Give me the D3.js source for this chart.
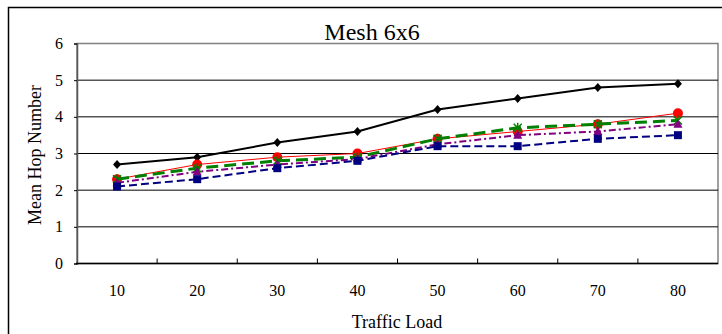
<!DOCTYPE html>
<html>
<head>
<meta charset="utf-8">
<script src="https://cdn.jsdelivr.net/npm/d3@7"></script>
<style>
  body { margin: 0; background: #fff; }
</style>
</head>
<body>
<div class="chart"></div>
<script>
const loads = [10, 20, 30, 40, 50, 60, 70, 80];
const yTicks = [0, 1, 2, 3, 4, 5, 6];

const seriesA = [2.7, 2.9, 3.3, 3.6, 4.2, 4.5, 4.8, 4.9];
const seriesB = [2.3, 2.7, 2.9, 3.0, 3.4, 3.6, 3.8, 4.1];
const seriesC = [2.3, 2.6, 2.8, 2.9, 3.4, 3.7, 3.8, 3.9];
const seriesD = [2.2, 2.5, 2.7, 2.85, 3.25, 3.5, 3.6, 3.8];
const seriesE = [2.1, 2.3, 2.6, 2.8, 3.2, 3.2, 3.4, 3.5];

const series = [
  {values: seriesA, color: "#000000", width: 2, dash: null, marker: "diamond"},
  {values: seriesB, color: "#ff0000", width: 1, dash: null, marker: "circle"},
  {values: seriesC, color: "#008000", width: 3, dash: "12,6", marker: "star"},
  {values: seriesD, color: "#800080", width: 2, dash: "7,3,2,3", marker: "triangle"},
  {values: seriesE, color: "#000080", width: 2, dash: "8,4", marker: "square"}
];

const serif = "'Liberation Serif', 'Times New Roman', serif";

const margin = {top: 43.5, right: 4, bottom: 70.5, left: 77};
const width = 722 - margin.left - margin.right,
    height = 334 - margin.top - margin.bottom;

const root = d3.select(".chart").append("svg")
  .attr("width", 722)
  .attr("height", 334);

// outer frame
root.append("rect")
  .attr("x", 8.5).attr("y", 7.5)
  .attr("width", 730).attr("height", 340)
  .attr("fill", "none").attr("stroke", "#000").attr("stroke-width", 1.5);

const svg = root.append("g")
  .attr("transform", "translate(" + margin.left + "," + margin.top + ")");

const xScale = d3.scaleBand()
  .domain(loads)
  .range([0, width]);

const yScale = d3.scaleLinear()
  .domain([0, 6])
  .range([height, 0]);

// plot box
svg.append("rect")
  .attr("width", width).attr("height", height)
  .attr("fill", "none").attr("stroke", "#808080").attr("stroke-width", 1.5);

// gridlines
svg.selectAll(".grid")
  .data(yTicks.filter(d => d > 0 && d < 6))
  .enter()
  .append("line")
  .attr("class", "grid")
  .attr("x1", 0).attr("x2", width)
  .attr("y1", d => yScale(d)).attr("y2", d => yScale(d))
  .attr("stroke", "#000").attr("stroke-width", 1);

// y axis
const yAxis = d3.axisLeft(yScale).tickValues(yTicks).tickSize(3).tickPadding(11).tickFormat(d3.format("d"));
svg.append("g").attr("class", "yAxis").call(yAxis)
  .attr("font-family", serif)
  .attr("font-size", 16)
  .call(g => g.select(".domain").attr("stroke", "#555").attr("stroke-width", 1.5));

// x axis: ticks between categories, pointing up
const bounds = d3.range(1, loads.length).map(i => i * xScale.bandwidth());
svg.append("line")
  .attr("x1", -1).attr("x2", width)
  .attr("y1", height).attr("y2", height)
  .attr("stroke", "#000").attr("stroke-width", 1.5);
svg.selectAll(".xtick")
  .data(bounds)
  .enter()
  .append("line")
  .attr("class", "xtick")
  .attr("x1", d => d).attr("x2", d => d)
  .attr("y1", height).attr("y2", height - 5)
  .attr("stroke", "#000").attr("stroke-width", 1);
svg.selectAll(".xlabel")
  .data(loads)
  .enter()
  .append("text")
  .attr("class", "xlabel")
  .attr("x", d => xScale(d) + xScale.bandwidth() / 2)
  .attr("y", height + 32)
  .attr("text-anchor", "middle")
  .style("font-family", serif)
  .style("font-size", "16px")
  .text(d => d);

// lines and markers
const line = d3.line()
  .x((d, i) => xScale(loads[i]) + xScale.bandwidth() / 2)
  .y(d => yScale(d));

function markerPath(type) {
  if (type === "diamond") return "M0,-4.5L4,0L0,4.5L-4,0Z";
  if (type === "triangle") return "M0,-5L4.5,3.5L-4.5,3.5Z";
  if (type === "square") return "M-4,-4H4V4H-4Z";
  if (type === "star") return "M-4,-4L4,4M-4,4L4,-4M0,-5V5";
  return null;
}

series.forEach(s => {
  svg.append("path")
    .datum(s.values)
    .attr("fill", "none")
    .attr("stroke", s.color)
    .attr("stroke-width", s.width)
    .attr("stroke-dasharray", s.dash)
    .attr("d", line);

  const pts = svg.selectAll(null)
    .data(s.values)
    .enter()
    .append("g")
    .attr("transform", (d, i) => "translate(" + (xScale(loads[i]) + xScale.bandwidth() / 2) + "," + yScale(d) + ")");

  if (s.marker === "circle") {
    pts.append("circle").attr("r", 5).attr("fill", s.color);
  } else if (s.marker === "star") {
    pts.append("path").attr("d", markerPath(s.marker))
      .attr("fill", "none").attr("stroke", s.color).attr("stroke-width", 1.5);
  } else {
    pts.append("path").attr("d", markerPath(s.marker)).attr("fill", s.color);
  }
});

// titles
root.append("text")
  .attr("x", 372).attr("y", 40)
  .attr("text-anchor", "middle")
  .style("font-family", serif)
  .style("font-size", "24px")
  .text("Mesh 6x6");

root.append("text")
  .attr("x", 397).attr("y", 328)
  .attr("text-anchor", "middle")
  .style("font-family", serif)
  .style("font-size", "18px")
  .text("Traffic Load");

root.append("text")
  .attr("transform", "translate(41,155) rotate(-90)")
  .attr("text-anchor", "middle")
  .style("font-family", serif)
  .style("font-size", "18px")
  .text("Mean Hop Number");
</script>
</body>
</html>
